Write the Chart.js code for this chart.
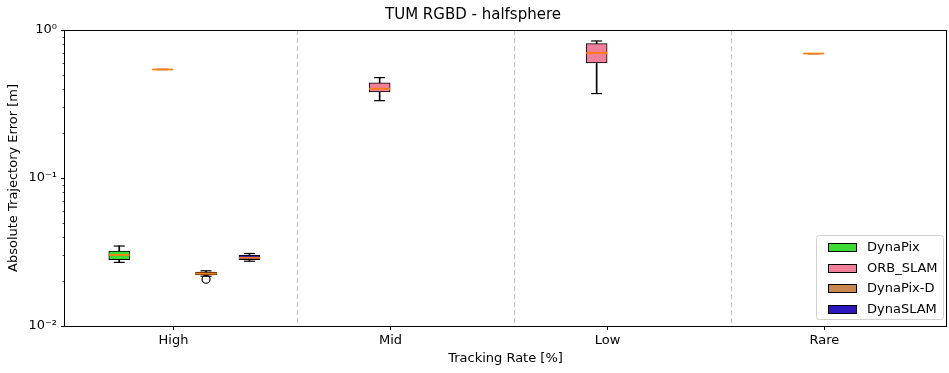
<!DOCTYPE html>
<html>
<head>
<meta charset="utf-8">
<script src="https://cdn.jsdelivr.net/npm/chart.js@4/dist/chart.umd.min.js"></script>
<style>
    body { margin: 0; background: #fff; }
    #wrap { width: 949px; height: 373px; position: relative; }
</style>
</head>
<body>
<div id="wrap"><canvas id="chart"></canvas></div>
<script>
// categories and series
const categories = ['High', 'Mid', 'Low', 'Rare'];
const seriesNames = ['DynaPix', 'ORB_SLAM', 'DynaPix-D', 'DynaSLAM'];
const seriesColors = ['#3cdc34', '#f07f99', '#c8874f', '#2c16c0'];

// [lower whisker, q1, median, q3, upper whisker] per category, null = no box
const dynaPixStats = [[0.0269, 0.0281, 0.0302, 0.0321, 0.0347], null, null, null];
const orbSlamStats = [
    [0.541, 0.541, 0.541, 0.541, 0.541],
    [0.333, 0.381, 0.401, 0.440, 0.477],
    [0.372, 0.600, 0.700, 0.809, 0.843],
    [0.693, 0.693, 0.693, 0.693, 0.693]
];
const dynaPixDStats = [[0.0217, 0.0221, 0.0226, 0.0231, 0.0236], null, null, null];
const dynaSlamStats = [[0.0274, 0.0281, 0.0289, 0.0301, 0.0309], null, null, null];

// fliers per category
const dynaPixOutliers = [[], [], [], []];
const orbSlamOutliers = [[], [], [], []];
const dynaPixDOutliers = [[0.0207], [], [], []];
const dynaSlamOutliers = [[], [], [], []];

// y axis major ticks and their labels
const yMajorTicks = [0.01, 0.1, 1];
const yTickLabels = ['10\u207B\u00B2', '10\u207B\u00B9', '10\u2070'];

const allStats = [dynaPixStats, orbSlamStats, dynaPixDStats, dynaSlamStats];
const allOutliers = [dynaPixOutliers, orbSlamOutliers, dynaPixDOutliers, dynaSlamOutliers];

// layout of boxes inside one category slot (x units)
const BOX_OFFSETS = [-0.25, -0.05, 0.15, 0.35];
const SEPARATORS = [1.57, 2.57, 3.57];
const BOX_PX = 21;
const MEDIAN_COLOR = '#ff7f0e';
const FONT = 'DejaVu Sans';

// minor ticks of the log axis
const yMinorTicks = [];
[0.01, 0.1].forEach(d => {
    for (let k = 2; k <= 9; k++) yMinorTicks.push(+(d * k).toPrecision(3));
});

const boxSets = [];
const whiskers = [];
const caps = [];
const medians = [];
const fliers = [];

allStats.forEach((stats, s) => {
    const boxes = [];
    stats.forEach((st, c) => {
        if (!st) return;
        const xv = c + 1 + BOX_OFFSETS[s];
        const [lo, q1, med, q3, hi] = st;
        boxes.push({ x: xv, y: [q1, q3] });
        if (lo < q1) whiskers.push({ x: xv, y: [lo, q1] });
        if (hi > q3) whiskers.push({ x: xv, y: [q3, hi] });
        caps.push({ x: xv, y: lo }, { x: xv, y: hi });
        medians.push({ x: xv, y: med });
        allOutliers[s][c].forEach(v => fliers.push({ x: xv, y: v }));
    });
    boxSets.push({
        type: 'bar',
        label: seriesNames[s],
        data: boxes,
        backgroundColor: seriesColors[s],
        borderColor: '#000',
        borderWidth: 1,
        borderSkipped: false,
        barThickness: BOX_PX,
        grouped: false,
        order: 3
    });
});

const datasets = [
    {
        type: 'scatter', label: 'median', data: medians,
        pointStyle: 'line', pointRadius: BOX_PX / 2, pointHoverRadius: BOX_PX / 2,
        borderColor: MEDIAN_COLOR, borderWidth: 1.8, order: 0
    },
    {
        type: 'scatter', label: 'fliers', data: fliers,
        pointStyle: 'circle', pointRadius: 4, backgroundColor: 'rgba(0,0,0,0)',
        borderColor: '#000', borderWidth: 1.2, order: 1
    },
    {
        type: 'scatter', label: 'caps', data: caps,
        pointStyle: 'line', pointRadius: 5.5, pointHoverRadius: 5.5,
        borderColor: '#000', borderWidth: 1.2, order: 2
    },
    ...boxSets,
    {
        type: 'bar', label: 'whiskers', data: whiskers,
        backgroundColor: '#000', borderWidth: 0,
        barThickness: 1, grouped: false, order: 4
    }
];

const decorPlugin = {
    id: 'decor',
    beforeDatasetsDraw(chart) {
        const { ctx, chartArea: a, scales: { x } } = chart;
        ctx.save();
        ctx.strokeStyle = '#bdbdbd';
        ctx.lineWidth = 1;
        ctx.setLineDash([5, 3]);
        SEPARATORS.forEach(v => {
            const px = Math.round(x.getPixelForValue(v)) + 0.5;
            ctx.beginPath();
            ctx.moveTo(px, a.top);
            ctx.lineTo(px, a.bottom);
            ctx.stroke();
        });
        ctx.restore();
    },
    afterDraw(chart) {
        const { ctx, chartArea: a, scales: { x, y } } = chart;
        ctx.save();
        ctx.strokeStyle = '#000';

        // spines
        ctx.lineWidth = 1;
        ctx.strokeRect(Math.round(a.left) - 0.5, Math.round(a.top) + 0.5,
            Math.round(a.right - a.left) + 1, Math.round(a.bottom - a.top));

        // tick marks
        ctx.beginPath();
        yMajorTicks.forEach(v => {
            const py = Math.round(y.getPixelForValue(v)) + 0.5;
            ctx.moveTo(a.left - 4, py);
            ctx.lineTo(a.left, py);
        });
        categories.forEach((c, i) => {
            const px = Math.round(x.getPixelForValue(i + 1)) + 0.5;
            ctx.moveTo(px, a.bottom);
            ctx.lineTo(px, a.bottom + 4);
        });
        ctx.stroke();
        ctx.lineWidth = 0.7;
        ctx.beginPath();
        yMinorTicks.forEach(v => {
            const py = Math.round(y.getPixelForValue(v)) + 0.5;
            ctx.moveTo(a.left - 2.5, py);
            ctx.lineTo(a.left, py);
        });
        ctx.stroke();

        // legend, lower right
        const lw = 127, lh = 84;
        const lx = Math.round(a.right) - 3 - lw;
        const ly = Math.round(a.bottom) - 7 - lh;
        ctx.fillStyle = 'rgba(255,255,255,0.85)';
        ctx.strokeStyle = '#d0d0d0';
        ctx.lineWidth = 1;
        ctx.beginPath();
        ctx.roundRect(lx + 0.5, ly + 0.5, lw, lh, 3);
        ctx.fill();
        ctx.stroke();
        ctx.font = '13px "' + FONT + '"';
        ctx.textBaseline = 'middle';
        ctx.textAlign = 'left';
        seriesNames.forEach((name, i) => {
            const ry = ly + 8 + i * 20.7;
            ctx.fillStyle = seriesColors[i];
            ctx.strokeStyle = '#000';
            ctx.fillRect(lx + 12, Math.round(ry), 29, 9);
            ctx.strokeRect(lx + 12.5, Math.round(ry) + 0.5, 28, 8);
            ctx.fillStyle = '#000';
            ctx.fillText(name, lx + 51, ry + 4.5);
        });
        ctx.restore();
    }
};

new Chart(document.getElementById('chart'), {
    type: 'bar',
    data: { datasets: datasets },
    options: {
        responsive: true,
        maintainAspectRatio: false,
        animation: false,
        layout: { autoPadding: false, padding: { left: 0, right: 3, top: 0, bottom: 0 } },
        plugins: {
            legend: { display: false },
            tooltip: { enabled: false },
            title: {
                display: true,
                text: 'TUM RGBD - halfsphere',
                color: '#000',
                font: { family: FONT, size: 15, weight: 'normal' },
                padding: { top: 6, bottom: 6 }
            }
        },
        scales: {
            x: {
                type: 'linear',
                offset: false,
                min: 0.5,
                max: 4.56,
                grid: { display: false, drawTicks: false, offset: false },
                border: { display: false },
                afterBuildTicks(scale) {
                    scale.ticks = categories.map((c, i) => ({ value: i + 1 }));
                },
                afterFit(scale) { scale.height = 47; },
                ticks: {
                    autoSkip: false,
                    maxRotation: 0,
                    padding: 7,
                    color: '#000',
                    font: { family: FONT, size: 13 },
                    callback: v => categories[Math.round(v) - 1] || ''
                },
                title: {
                    display: true,
                    text: 'Tracking Rate [%]',
                    color: '#000',
                    font: { family: FONT, size: 13 },
                    padding: { top: 0, bottom: 7 }
                }
            },
            y: {
                type: 'logarithmic',
                min: 0.01,
                max: 1,
                grid: { display: false, drawTicks: false },
                border: { display: false },
                afterBuildTicks(scale) {
                    scale.ticks = yMajorTicks.map(v => ({ value: v, major: true }));
                },
                afterFit(scale) { scale.width = 65; },
                ticks: {
                    autoSkip: false,
                    padding: 8,
                    color: '#000',
                    font: { family: FONT, size: 13 },
                    callback: v => {
                        const i = yMajorTicks.findIndex(t => Math.abs(t - v) < 1e-9);
                        return i >= 0 ? yTickLabels[i] : '';
                    }
                },
                title: {
                    display: true,
                    text: 'Absolute Trajectory Error [m]',
                    color: '#000',
                    font: { family: FONT, size: 13 },
                    padding: { top: 6, bottom: 0 }
                }
            }
        }
    },
    plugins: [decorPlugin]
});
</script>
</body>
</html>
